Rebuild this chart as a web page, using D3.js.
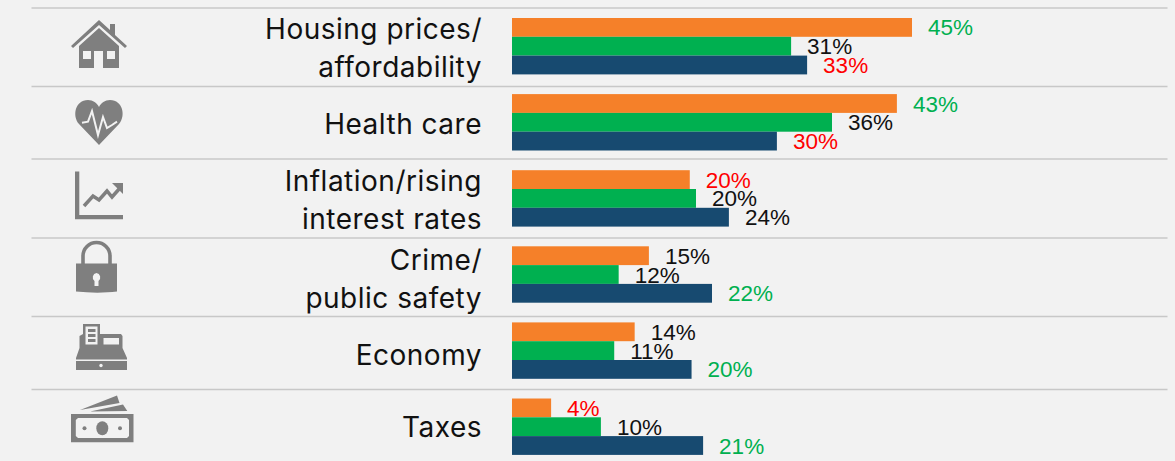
<!DOCTYPE html>
<html>
<head>
<meta charset="utf-8">
<script src="https://cdn.jsdelivr.net/npm/d3@7"></script>
<style>
  html, body { margin: 0; padding: 0; background: #f2f2f2; overflow: hidden; }
  .cat { font-family: Inter, "Noto Sans", sans-serif; font-size: 28px; letter-spacing: 0.5px; fill: #111; text-anchor: end; }
  .val { font-family: "Liberation Sans", Arial, sans-serif; font-size: 22.5px; dominant-baseline: central; }
  .sep { stroke: #c8c8c8; stroke-width: 1.6; }
</style>
</head>
<body>
<div id="chart"></div>
<script>
const width = 1175;
const height = 461;

const categories = ["Housing", "Health care", "Inflation", "Crime", "Economy", "Taxes"];
const catLines = [
    ["Housing prices/", "affordability"],
    ["Health care"],
    ["Inflation/rising", "interest rates"],
    ["Crime/", "public safety"],
    ["Economy"],
    ["Taxes"]
];
const seriesNames = ["a", "b", "c"];
const seriesColors = ["#f58029", "#00b050", "#174a70"];

// bar lengths, the printed labels are kept apart
const orange = [45, 43.3, 20, 15.4, 13.8, 4.4];
const green = [31.4, 36, 20.7, 12, 11.5, 10];
const navy = [33.2, 29.8, 24.4, 22.5, 20.2, 21.5];
const orangeLabels = ["45%", "43%", "20%", "15%", "14%", "4%"];
const greenLabels = ["31%", "36%", "20%", "12%", "11%", "10%"];
const navyLabels = ["33%", "30%", "24%", "22%", "20%", "21%"];
const orangeTone = ["up", "up", "down", "same", "same", "down"];
const greenTone = ["same", "same", "same", "same", "same", "same"];
const navyTone = ["down", "down", "same", "up", "up", "up"];
const toneColors = { up: "#00b050", down: "#ff0000", same: "#111111" };

const values = [orange, green, navy];
const labels = [orangeLabels, greenLabels, navyLabels];
const tones = [orangeTone, greenTone, navyTone];

// rules and label nudges are layout, the rows are not quite even in the source
const separators = [8, 86.5, 159, 238, 316.5, 389.5];
const labelNudge = [3, 3, 3, 6, 6, 1];

const svg = d3.select("#chart")
    .append("svg")
    .attr("width", width)
    .attr("height", height);

const xScale = d3.scaleLinear()
    .domain([0, 45])
    .range([512, 912]);

// one band per row, the 3 bars only fill the top 56px of it
const yScale = d3.scaleBand()
    .domain(categories)
    .range([18, 18 + 76.1 * 6]);

const rowScale = d3.scaleBand()
    .domain(seriesNames)
    .range([0, 56.4]);

svg.selectAll(".sep")
    .data(separators)
    .join("line")
    .attr("class", "sep")
    .attr("x1", 31.5)
    .attr("x2", 1167.5)
    .attr("y1", d => d)
    .attr("y2", d => d);

seriesNames.forEach((s, si) => {
    svg.selectAll(".bar-" + s)
        .data(categories)
        .join("rect")
        .attr("class", "bar-" + s)
        .attr("x", xScale(0))
        .attr("y", d => yScale(d) + rowScale(s))
        .attr("width", (d, i) => xScale(values[si][i]) - xScale(0))
        .attr("height", rowScale.bandwidth())
        .attr("fill", seriesColors[si]);

    svg.selectAll(".val-" + s)
        .data(categories)
        .join("text")
        .attr("class", "val val-" + s)
        .attr("x", (d, i) => xScale(values[si][i]) + 16)
        .attr("y", d => yScale(d) + rowScale(s) + rowScale.bandwidth() / 2 + 0.5)
        .attr("fill", (d, i) => toneColors[tones[si][i]])
        .text((d, i) => labels[si][i]);
});

const catLabels = svg.selectAll(".cat")
    .data(catLines)
    .join("text")
    .attr("class", "cat");

catLabels.each(function (lines, i) {
    const mid = yScale(categories[i]) + 37 + labelNudge[i];
    d3.select(this).selectAll("tspan")
        .data(lines)
        .join("tspan")
        .attr("x", 482)
        .attr("y", (d, j) => mid + (j - (lines.length - 1) / 2) * 38)
        .text(d => d);
});

// icons
const grey = "#7f7f7f";
const bg = "#f2f2f2";
const icons = svg.append("g").attr("fill", grey);

// house
icons.append("path")
    .attr("d", "M71 46 L99 20 L110 30 L110 24 L115 24 L115 35 L127 46 L125 48 L99 25 L73 48 Z");
icons.append("path")
    .attr("fill-rule", "evenodd")
    .attr("d", "M79 46 L99 28 L119 46 L119 68 L103 68 L103 51 L94 51 L94 68 L79 68 Z M83 51 L91 51 L91 59 L83 59 Z M107 51 L115 51 L115 59 L107 59 Z");

// heart
icons.append("path")
    .attr("d", "M99 145 L79 124 C72 116 75 100 88 100 C93 100 97 103 99 107 C101 103 105 100 110 100 C123 100 126 116 119 124 Z");
svg.append("path")
    .attr("d", "M82 122.7 L88 121.7 L92 111 L98 135 L103 117 L107 128 L112 125 L117 121.7")
    .attr("fill", "none")
    .attr("stroke", bg)
    .attr("stroke-width", 2);

// axis chart
icons.append("path")
    .attr("d", "M75 171.5 L79.3 171.5 L79.3 215 L123 215 L123 219.3 L75 219.3 Z");
svg.append("path")
    .attr("d", "M84 206 L93 196 L99 200 L107 191 L112 197 L120 188")
    .attr("fill", "none")
    .attr("stroke", grey)
    .attr("stroke-width", 3.5);
icons.append("path")
    .attr("d", "M112 183 L123 183 L123 194 Z");

// lock
icons.append("path")
    .attr("fill-rule", "evenodd")
    .attr("d", "M76 263.5 L117 263.5 L117 291.5 C105 293 90 293 76 291.5 Z M96.5 273 A4.5 4.5 0 0 0 94.5 281 L94.5 286 L98.5 286 L98.5 281 A4.5 4.5 0 0 0 96.5 273 Z");
svg.append("path")
    .attr("d", "M83 265 L83 256 A13.5 13.5 0 0 1 110 256 L110 265")
    .attr("fill", "none")
    .attr("stroke", grey)
    .attr("stroke-width", 3.6);

// cash register
icons.append("path")
    .attr("fill-rule", "evenodd")
    .attr("d", "M83 324 L100 324 L100 334 L121 334 L122.5 336 L122.5 348 L127 358 L127 359.5 L76 359.5 L76 358 L79.5 348 L79.5 336 L83 334 Z M85.5 326.5 L97.5 326.5 L97.5 344.5 L85.5 344.5 Z M103.5 338 L119 338 L119 344.5 L103.5 344.5 Z");
icons.append("rect").attr("x", 76).attr("y", 361).attr("width", 51).attr("height", 9);
icons.selectAll(".stripe")
    .data([329, 334, 339])
    .join("rect")
    .attr("class", "stripe")
    .attr("x", 88).attr("y", d => d).attr("width", 7.5).attr("height", 3);
svg.append("circle").attr("cx", 101).attr("cy", 365.5).attr("r", 1.7).attr("fill", bg);

// cash
icons.append("path")
    .attr("d", "M80 410 L117 395.5 L119.5 403 Z M90 411.5 L123 404.5 L127.3 411 Z");
icons.append("path")
    .attr("fill-rule", "evenodd")
    .attr("d", "M71 414 L133.5 414 L133.5 442.3 L71 442.3 Z M78 418 L75.8 420 L75.8 436 L78 438 L127 438 L129 436 L129 420 L127 418 Z");
icons.append("ellipse").attr("cx", 102.3).attr("cy", 428.3).attr("rx", 6).attr("ry", 7);
icons.append("circle").attr("cx", 84.5).attr("cy", 428.3).attr("r", 2);
icons.append("circle").attr("cx", 120).attr("cy", 428.3).attr("r", 2);
</script>
</body>
</html>
